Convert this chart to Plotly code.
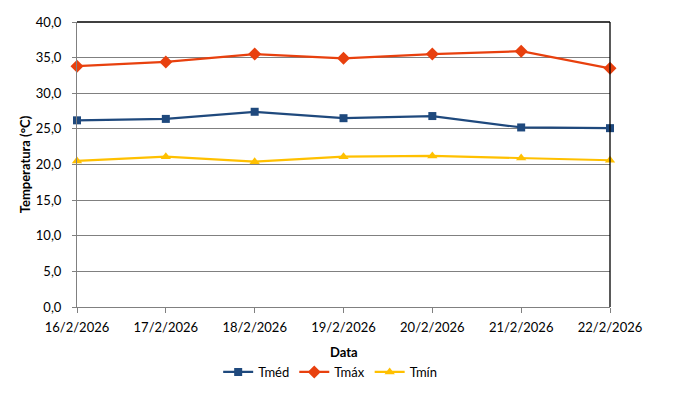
import plotly.graph_objects as go

dates = ["16/2/2026", "17/2/2026", "18/2/2026", "19/2/2026", "20/2/2026", "21/2/2026", "22/2/2026"]
tmed = [26.2, 26.4, 27.4, 26.5, 26.8, 25.2, 25.1]
tmax = [33.8, 34.4, 35.5, 34.9, 35.5, 35.9, 33.5]
tmin = [20.5, 21.1, 20.4, 21.1, 21.2, 20.9, 20.6]

font = "Lato, 'Liberation Sans', sans-serif"

fig = go.Figure()
fig.add_trace(go.Scatter(x=dates, y=tmed, name="Tméd", mode="lines+markers",
                         line=dict(color="#1F497D", width=2.2),
                         marker=dict(symbol="square", size=8, color="#1F497D"), cliponaxis=False))
fig.add_trace(go.Scatter(x=dates, y=tmax, name="Tmáx", mode="lines+markers",
                         line=dict(color="#E8400E", width=2.2),
                         marker=dict(symbol="diamond", size=10, color="#E8400E"), cliponaxis=False))
fig.add_trace(go.Scatter(x=dates, y=tmin, name="Tmín", mode="lines+markers",
                         line=dict(color="#FFC000", width=2.2),
                         marker=dict(symbol="triangle-up", size=9, color="#FFC000"), cliponaxis=False))

fig.update_layout(
    width=671, height=395,
    margin=dict(l=69, r=69, t=14, b=96),
    paper_bgcolor="white", plot_bgcolor="white",
    separators=",.",
    font=dict(family=font, size=13, color="black"),
    showlegend=True,
    legend=dict(orientation="h", x=0.475, xanchor="center", y=-0.228, yanchor="middle",
                font=dict(size=13), itemwidth=30, tracegroupgap=0),
    xaxis=dict(type="category", range=[0, 6], showgrid=False, showline=True,
               linecolor="#808080", linewidth=1, ticks="outside", ticklen=5,
               tickcolor="#808080", tickfont=dict(size=13), zeroline=False,
               automargin=False, ticklabelstandoff=3),
    yaxis=dict(range=[0, 40], dtick=5, tickformat=".1f", showgrid=True,
               gridcolor="#808080", gridwidth=1, showline=True, linecolor="#808080",
               ticks="outside", ticklen=4, tickcolor="#808080", zeroline=False,
               tickfont=dict(size=13), automargin=False, ticklabelstandoff=8),
    shapes=[
        dict(type="line", xref="paper", yref="paper", x0=0, x1=1, y0=1, y1=1,
             line=dict(color="black", width=1.3)),
        dict(type="line", xref="paper", yref="paper", x0=1, x1=1, y0=0, y1=1,
             line=dict(color="black", width=1.3)),
    ],
    annotations=[
        dict(text="<b>Data</b>", xref="paper", yref="paper", x=0.5, y=-0.158,
             xanchor="center", yanchor="middle", showarrow=False, font=dict(size=13)),
        dict(text="<b>Temperatura (°C)</b>", xref="paper", yref="paper", x=-0.098, y=0.5,
             xanchor="center", yanchor="middle", textangle=-90, showarrow=False,
             font=dict(size=13)),
    ],
)

fig.write_html("out.html")
